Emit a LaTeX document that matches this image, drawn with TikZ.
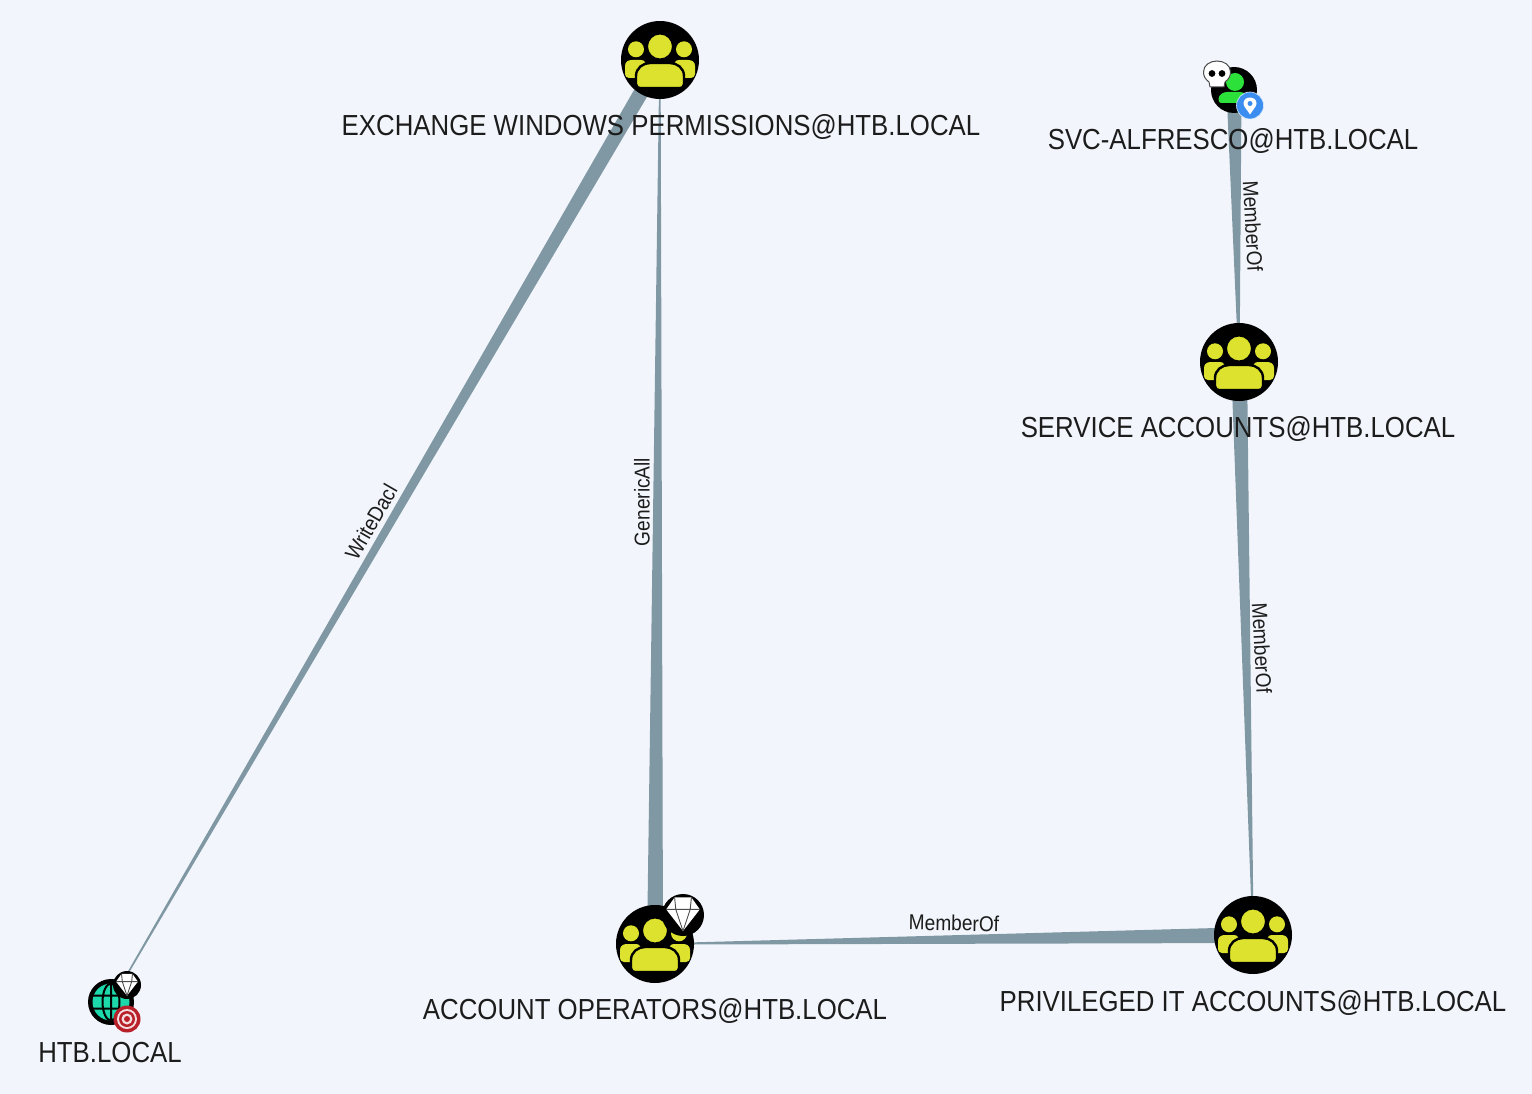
\documentclass[tikz,border=0pt]{standalone}
\usepackage{fontspec}
\setmainfont{Liberation Sans}[FakeStretch=0.89]
\usetikzlibrary{calc,backgrounds}
\definecolor{bgc}{HTML}{F2F6FC}
\definecolor{edgec}{HTML}{7F98A3}
\definecolor{grpc}{HTML}{DCE22D}
\definecolor{usrc}{HTML}{2CE23A}
\definecolor{domc}{HTML}{1DD8AB}
\definecolor{txtc}{HTML}{1C1C1C}
\definecolor{pinc}{HTML}{3B8EF0}
\definecolor{tgtc}{HTML}{B8202A}
\tikzset{
  bignode/.style={circle,fill=black,draw=none,minimum size=78pt,inner sep=0pt},
  smallnode/.style={circle,fill=black,draw=none,minimum size=48pt,inner sep=0pt},
  namelabel/.style={text=txtc,font=\fontsize{29}{29}\selectfont,inner sep=0pt},
  elabel/.style={text=txtc,font=\fontsize{21.5}{22}\selectfont,inner sep=0pt},
  ico/.style={fill=#1,draw=black,line width=1.6pt,line join=round}
}
% tapered connector: thick at #1, thin at #2
\newcommand{\taper}[3]{\fill[edgec] ($(#1.center)!#3pt!90:(#2.center)$) -- ($(#2.center)!0.6pt!-90:(#1.center)$) -- ($(#2.center)!0.6pt!90:(#1.center)$) -- ($(#1.center)!#3pt!-90:(#2.center)$) -- cycle;}
\newcommand{\groupicon}[1]{%
\begin{scope}[shift={(#1.center)}]
 \fill[grpc] (-24,-10.7) circle (8);
 \fill[grpc] (24,-10.7) circle (8);
 \fill[grpc] (-31,18) .. controls (-33.5,18) and (-35,16) .. (-35,14) -- (-35,6) .. controls (-35,2) and (-32,0) .. (-28,0) -- (-19,0) .. controls (-15,0) and (-14,3) .. (-14,8) -- (-14,18) -- cycle;
 \fill[grpc] (31,18) .. controls (33.5,18) and (35,16) .. (35,14) -- (35,6) .. controls (35,2) and (32,0) .. (28,0) -- (19,0) .. controls (15,0) and (14,3) .. (14,8) -- (14,18) -- cycle;
 \fill[grpc,draw=black,line width=2pt] (0,-13.5) circle (13);
 \filldraw[ico=grpc,line width=2.4pt] (-24,24) .. controls (-24,27) and (-22,28) .. (-20,28) -- (20,28) .. controls (22,28) and (24,27) .. (24,24) -- (24,16) .. controls (24,8) and (17,3) .. (10,3) -- (-10,3) .. controls (-17,3) and (-24,8) .. (-24,16) -- cycle;
\end{scope}}
\newcommand{\diamondicon}[3]{%
\begin{scope}[shift={(#1.center)},shift={(0,#3)},scale=#2]
 \fill[white] (-7,-13) -- (7,-13) -- (14,-3) -- (0,15) -- (-14,-3) -- cycle;
 \draw[black!70,line width=0.9pt,line join=round] (-14,-3) -- (14,-3) (-6,-3) -- (0,15) -- (6,-3) (-7,-13) -- (-6,-3) (7,-13) -- (6,-3);
\end{scope}}
\begin{document}
\begin{tikzpicture}[x=1pt,y=-1pt]
\useasboundingbox (0,0) rectangle (1532,1094);
\begin{scope}[on background layer]
 \fill[bgc] (0,0) rectangle (1532,1094);
\end{scope}
% nodes
\node[bignode] (ewp) at (660,60) {};
\node[smallnode,minimum size=46pt] (svc) at (1234,90) {};
\node[bignode] (sa) at (1239,362) {};
\node[bignode] (ao) at (655,944) {};
\node[bignode] (pit) at (1253,935) {};
\node[smallnode,minimum size=46pt] (htb) at (111,1002) {};
\groupicon{ewp}
\groupicon{sa}
\groupicon{ao}
\groupicon{pit}
% connectors
\begin{scope}[on background layer]
 \taper{ewp}{htb}{7.6}
 \taper{ao}{ewp}{8}
 \taper{svc}{sa}{7.5}
 \taper{sa}{pit}{8}
 \taper{pit}{ao}{8}
\end{scope}
% user icon
\begin{scope}[shift={(svc.center)}]
 \fill[usrc] (1,-8) circle (9);
 \fill[usrc] (-13,13) .. controls (-15,13) and (-15.5,11) .. (-15.5,9) .. controls (-15.5,5) and (-11,2) .. (-7,2) -- (6,2) .. controls (10,2) and (13,5) .. (13,9) -- (13,13) -- cycle;
\end{scope}
% domain icon
\begin{scope}[shift={(htb.center)}]
 \fill[domc] (0,0) circle (18.5);
 \draw[black,line width=2pt] (0,0) ellipse (8.5 and 18.5) (-18.5,-6.5) -- (18.5,-6.5) (-18.5,6.5) -- (18.5,6.5) (0,-18.5) -- (0,18.5);
\end{scope}
% badges
\node[circle,fill=black,minimum size=42pt,inner sep=0pt] (aob) at (683,915) {};
\diamondicon{aob}{1.2}{-2}
\node[circle,fill=black,minimum size=28pt,inner sep=0pt] (htbd) at (127,985) {};
\diamondicon{htbd}{0.78}{-1}
\node[circle,fill=tgtc,minimum size=27pt,inner sep=0pt] (htbt) at (127,1019) {};
\fill[white!85!tgtc] (htbt.center) circle (10);
\fill[tgtc] (htbt.center) circle (8);
\fill[white!85!tgtc] (htbt.center) circle (5.5);
\fill[tgtc] (htbt.center) circle (3);
\node[circle,fill=pinc,draw=white!80!pinc,line width=0.6pt,minimum size=27pt,inner sep=0pt] (svcp) at (1250,105.5) {};
\begin{scope}[shift={(svcp.center)}]
 \fill[white] (0,9) .. controls (-3,4) and (-6.5,1) .. (-6.5,-2) .. controls (-6.5,-6) and (-3.5,-8) .. (0,-8) .. controls (3.5,-8) and (6.5,-6) .. (6.5,-2) .. controls (6.5,1) and (3,4) .. (0,9) -- cycle;
 \fill[pinc] (0,-2) circle (2.5);
\end{scope}
\coordinate (skull) at (1217,74);
\begin{scope}[shift={(skull)}]
 \filldraw[fill=white,draw=black!70,line width=1pt] (-8,8) .. controls (-12,5) and (-13.5,2) .. (-13.5,-2) .. controls (-13.5,-9) and (-7,-13) .. (0,-13) .. controls (7,-13) and (13.5,-9) .. (13.5,-2) .. controls (13.5,2) and (12,5) .. (8,8) -- (7,13) -- (-7,13) -- cycle;
 \fill[black] (-5,-0.5) circle (3.4);
 \fill[black] (5,-0.5) circle (3.4);
\end{scope}
% names
\node[namelabel] (l1) at (661,127) {EXCHANGE WINDOWS PERMISSIONS@HTB.LOCAL};
\node[namelabel] (l2) at (1233,141) {SVC-ALFRESCO@HTB.LOCAL};
\node[namelabel] (l3) at (1238,429) {SERVICE ACCOUNTS@HTB.LOCAL};
\node[namelabel] (l4) at (655,1011) {ACCOUNT OPERATORS@HTB.LOCAL};
\node[namelabel] (l5) at (1253,1003) {PRIVILEGED IT ACCOUNTS@HTB.LOCAL};
\node[namelabel] (l6) at (110,1053) {HTB.LOCAL};
% edge labels
\node[elabel,rotate=60] (e1) at (371,522) {WriteDacl};
\node[elabel,rotate=90] (e2) at (642,502) {GenericAll};
\node[elabel,rotate=-87] (e3) at (1253,226) {MemberOf};
\node[elabel,rotate=-87] (e4) at (1262,648) {MemberOf};
\node[elabel,rotate=-1] (e5) at (954,923) {MemberOf};
\end{tikzpicture}
\end{document}
